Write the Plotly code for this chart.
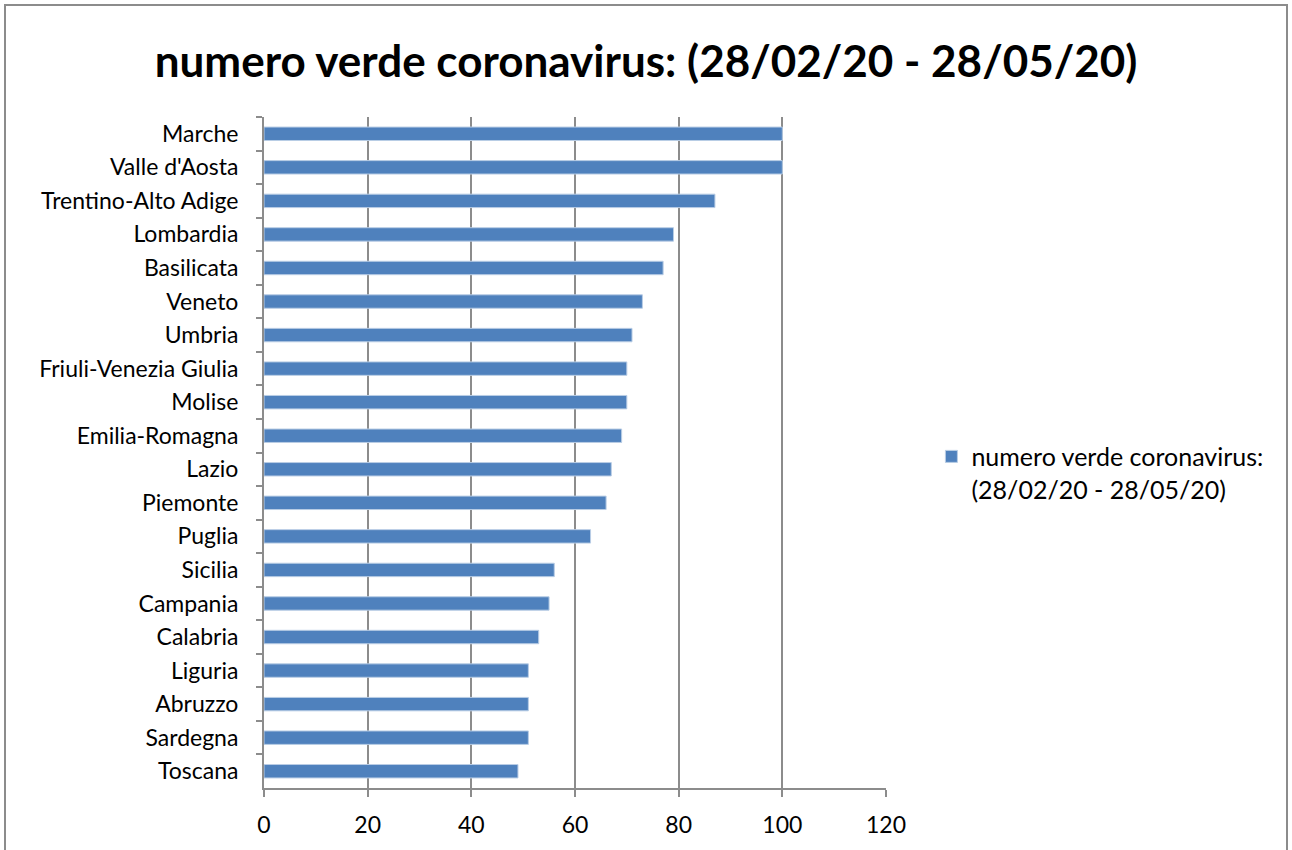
import plotly.graph_objects as go

# regions, top to bottom as in the chart
regions = [
    "Marche", "Valle d'Aosta", "Trentino-Alto Adige", "Lombardia", "Basilicata",
    "Veneto", "Umbria", "Friuli-Venezia Giulia", "Molise", "Emilia-Romagna",
    "Lazio", "Piemonte", "Puglia", "Sicilia", "Campania",
    "Calabria", "Liguria", "Abruzzo", "Sardegna", "Toscana",
]
values = [100, 100, 87, 79, 77, 73, 71, 70, 70, 69,
          67, 66, 63, 56, 55, 53, 51, 51, 51, 49]
x_ticks = [0, 20, 40, 60, 80, 100, 120]

TITLE = "numero verde coronavirus: (28/02/20 - 28/05/20)"
FONT = "Lato, Calibri, sans-serif"
BAR_COLOR = "#4F81BD"
GRID = "#8C8C8C"

fig = go.Figure(go.Bar(
    x=values, y=regions, orientation="h",
    name="numero verde coronavirus:<br>(28/02/20 - 28/05/20)",
    marker=dict(color=BAR_COLOR, line=dict(color="#B9CDE5", width=1)),
    width=0.4,
    showlegend=True,
))

fig.update_layout(
    width=1292, height=850,
    paper_bgcolor="white", plot_bgcolor="white",
    margin=dict(l=264, r=406, t=117, b=62),
    font=dict(family=FONT, size=23, color="black"),
    title=dict(text="<b>" + TITLE + "</b>", x=0.5, xanchor="center",
               y=0.927, yanchor="middle", font=dict(size=44, family=FONT)),
    legend=dict(x=1.073, y=0.47, xanchor="left", yanchor="middle", valign="top",
                font=dict(size=25), itemwidth=30, bgcolor="rgba(0,0,0,0)"),
    showlegend=True,
    bargap=0.6,
)

fig.update_xaxes(
    range=[0, 120], tickvals=x_ticks, showgrid=True, gridcolor=GRID, gridwidth=2,
    showline=True, linecolor=GRID, linewidth=2, ticks="outside", ticklen=7,
    tickcolor=GRID, tickwidth=2, zeroline=False, ticklabelstandoff=8,
)
fig.update_yaxes(
    type="category", autorange="reversed", showgrid=False,
    showline=True, linecolor=GRID, linewidth=2, ticks="outside", ticklen=6,
    tickcolor=GRID, tickwidth=2, tickson="boundaries", ticklabelstandoff=19,
)

# outer chart border
fig.add_shape(type="rect", xref="paper", yref="paper",
              x0=-0.4164, x1=1.6447, y0=-0.1, y1=1.1669,
              line=dict(color="#8C8C8C", width=2), fillcolor="rgba(0,0,0,0)")

fig.write_html("out.html", config={"displayModeBar": False},
               post_script="document.body.style.margin='0';")
